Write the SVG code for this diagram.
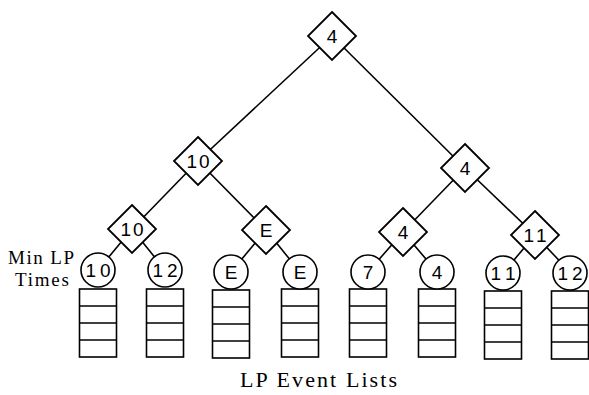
<svg xmlns="http://www.w3.org/2000/svg" width="589" height="395" viewBox="0 0 589 395">
<defs>
<style>
.ln{stroke:#000;stroke-width:1.6;fill:none}
.dm{fill:#fff;stroke:#000;stroke-width:1.8}
.cr{fill:#fff;stroke:#000;stroke-width:1.6}
.bx{fill:#fff;stroke:#000;stroke-width:1.6}
.dv{stroke:#000;stroke-width:1.6}
.t{font-family:"Liberation Sans",Arial,sans-serif;font-size:19px;text-anchor:middle;fill:#000}
.s{font-family:"Liberation Serif","Times New Roman",serif;font-size:22px;fill:#000}
.m{font-family:"Liberation Serif","Times New Roman",serif;font-size:19px;fill:#000}
</style>
<path id="dia" d="M0,-24 L24,0 L0,24 L-24,0 Z"/>
<g id="stack">
<rect class="bx" x="-18.5" y="0" width="37" height="68"/>
<line class="dv" x1="-18.5" y1="17" x2="18.5" y2="17"/>
<line class="dv" x1="-18.5" y1="34" x2="18.5" y2="34"/>
<line class="dv" x1="-18.5" y1="51" x2="18.5" y2="51"/>
</g>
</defs>
<rect width="589" height="395" fill="#fff"/>
<g id="connectors">
<line class="ln" x1="332" y1="36" x2="198" y2="161"/>
<line class="ln" x1="332" y1="36" x2="465" y2="168"/>
<line class="ln" x1="198" y1="161" x2="132" y2="229"/>
<line class="ln" x1="198" y1="161" x2="266" y2="230"/>
<line class="ln" x1="465" y1="168" x2="403" y2="232"/>
<line class="ln" x1="465" y1="168" x2="535" y2="235"/>
<line class="ln" x1="132" y1="229" x2="98" y2="270"/>
<line class="ln" x1="132" y1="229" x2="165" y2="270"/>
<line class="ln" x1="266" y1="230" x2="231" y2="272"/>
<line class="ln" x1="266" y1="230" x2="300" y2="272"/>
<line class="ln" x1="403" y1="232" x2="368" y2="272"/>
<line class="ln" x1="403" y1="232" x2="437" y2="272"/>
<line class="ln" x1="535" y1="235" x2="503" y2="273"/>
<line class="ln" x1="535" y1="235" x2="571" y2="273"/>
</g>
<g id="d-top" transform="translate(332,36)"><use href="#dia" class="dm"/><text class="t" y="7">4</text></g>
<g id="d-l" transform="translate(198,161)"><use href="#dia" class="dm"/><text class="t" y="7" textLength="23">10</text></g>
<g id="d-r" transform="translate(465,168)"><use href="#dia" class="dm"/><text class="t" y="7">4</text></g>
<g id="d-ll" transform="translate(132,229)"><use href="#dia" class="dm"/><text class="t" y="7" textLength="23">10</text></g>
<g id="d-lr" transform="translate(266,230)"><use href="#dia" class="dm"/><text class="t" y="7">E</text></g>
<g id="d-rl" transform="translate(403,232)"><use href="#dia" class="dm"/><text class="t" y="7">4</text></g>
<g id="d-rr" transform="translate(535,235)"><use href="#dia" class="dm"/><text class="t" y="7" textLength="23">11</text></g>
<g id="lp1" transform="translate(98,270)"><use href="#stack" y="19"/><circle class="cr" r="17"/><text class="t" y="7" textLength="25">10</text></g>
<g id="lp2" transform="translate(165,270)"><use href="#stack" y="19"/><circle class="cr" r="17"/><text class="t" y="7" textLength="25">12</text></g>
<g id="lp3" transform="translate(231,272)"><use href="#stack" y="18"/><circle class="cr" r="17"/><text class="t" y="7">E</text></g>
<g id="lp4" transform="translate(300,272)"><use href="#stack" y="17"/><circle class="cr" r="17"/><text class="t" y="7">E</text></g>
<g id="lp5" transform="translate(368,272)"><use href="#stack" y="17"/><circle class="cr" r="17"/><text class="t" y="7">7</text></g>
<g id="lp6" transform="translate(437,272)"><use href="#stack" y="17"/><circle class="cr" r="17"/><text class="t" y="7">4</text></g>
<g id="lp7" transform="translate(503,273)"><use href="#stack" y="18"/><circle class="cr" r="17"/><text class="t" y="7" textLength="25">11</text></g>
<g id="lp8" transform="translate(570,273)"><use href="#stack" y="18"/><circle class="cr" r="17"/><text class="t" y="7" textLength="25">12</text></g>
<text class="m" x="8" y="264" textLength="66">Min LP</text>
<text class="m" x="15" y="286" textLength="54">Times</text>
<text class="s" x="240" y="387" textLength="157">LP Event Lists</text>
</svg>
